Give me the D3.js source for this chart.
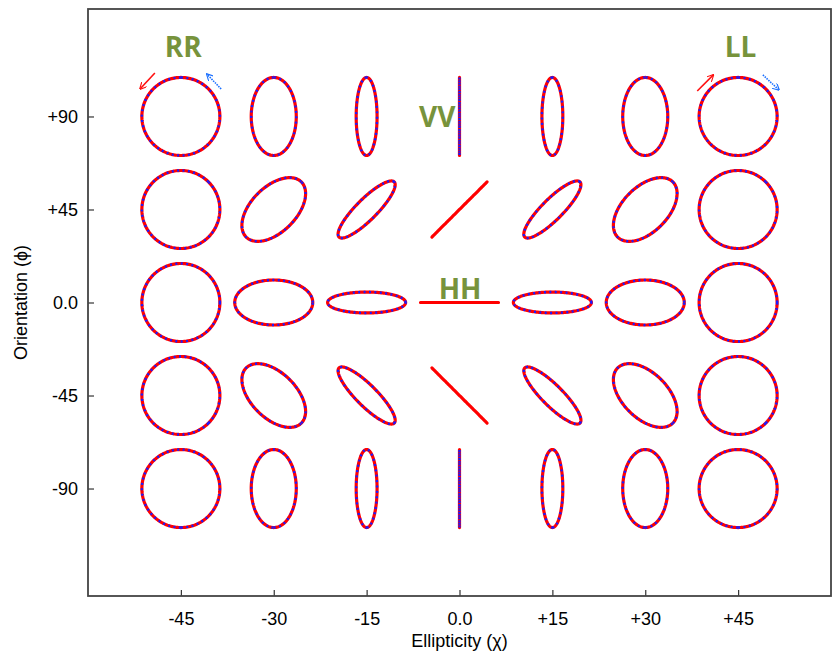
<!DOCTYPE html>
<html>
<head>
<meta charset="utf-8">
<script src="https://cdn.jsdelivr.net/npm/d3@7"></script>
<style>
  body { margin: 0; background: #fff; }
  text { font-family: "Liberation Sans", Arial, sans-serif; }
</style>
</head>
<body>
<script>
const w = 837;
const h = 663;

// data
const ellipticity = [-45, -30, -15, 0, 15, 30, 45];
const orientation = [90, 45, 0, -45, -90];
const xTickLabels = ["-45", "-30", "-15", "0.0", "+15", "+30", "+45"];
const yTickLabels = ["+90", "+45", "0.0", "-45", "-90"];

// polarisation names, anchored in data units (chi, psi)
const polNames = ["RR", "LL", "VV", "HH"];
const polChi = [-44.6, 45.4, -3.6, 0.1];
const polPsi = [119, 119, 85, 1.8];

// rotation sense arrows (data units)
const arrowColor = ["red", "blue", "red", "blue"];
const arrowFrom = [[-49.2, 111], [-38.5, 103.3], [38.4, 102.3], [49.0, 110.1]];
const arrowTo = [[-51.6, 103.3], [-40.8, 110.5], [41.0, 110.1], [51.6, 102.8]];

const margin = { left: 88, right: 6, top: 9, bottom: 67 };

const svg = d3.select("body").append("svg")
  .attr("width", w)
  .attr("height", h);

const xScale = d3.scaleLinear()
  .domain([-60, 60])
  .range([margin.left, w - margin.right]);

const yScale = d3.scaleLinear()
  .domain([-142, 142])
  .range([h - margin.bottom, margin.top]);

// ellipse size: major semi-axis as a share of one column step
const step = xScale(15) - xScale(0);
const major = step * 0.42;

const defs = svg.append("defs");
[["red", "#ff1010"], ["blue", "#1a6fff"]].forEach(([id, c]) => {
  defs.append("marker")
    .attr("id", "arrow-" + id)
    .attr("viewBox", "0 0 10 10")
    .attr("refX", 9)
    .attr("refY", 5)
    .attr("markerWidth", 7)
    .attr("markerHeight", 7)
    .attr("markerUnits", "userSpaceOnUse")
    .attr("orient", "auto")
    .append("path")
    .attr("d", "M0,0 L10,5 L0,10")
    .attr("fill", "none")
    .attr("stroke", c)
    .attr("stroke-width", 1.6);
});

// ellipses
const cells = [];
orientation.forEach((psi) => {
  ellipticity.forEach((chi) => {
    cells.push({ chi, psi });
  });
});

const line = d3.line().curve(d3.curveLinearClosed);

const ellipsePoints = (d) => {
  const cx = xScale(d.chi);
  const cy = yScale(d.psi);
  const a = major;
  const b = major * Math.tan(Math.abs(d.chi) * Math.PI / 180);
  const p = d.psi * Math.PI / 180;
  const pts = [];
  for (let i = 0; i < 180; i++) {
    const t = (i / 180) * 2 * Math.PI;
    const ex = a * Math.cos(t);
    const ey = b * Math.sin(t);
    pts.push([
      cx + ex * Math.cos(p) - ey * Math.sin(p),
      cy - (ex * Math.sin(p) + ey * Math.cos(p))
    ]);
  }
  return pts;
};

svg.append("g")
  .selectAll("path")
  .data(cells)
  .enter()
  .append("path")
  .attr("d", (d) => line(ellipsePoints(d)))
  .attr("fill", "none")
  .attr("stroke", "#ff0000")
  .attr("stroke-width", 3.2)
  .attr("stroke-linejoin", "round");

svg.append("g")
  .selectAll("path")
  .data(cells.filter((d) => d.chi !== 0 || Math.abs(d.psi) === 90))
  .enter()
  .append("path")
  .attr("d", (d) => line(ellipsePoints(d)))
  .attr("fill", "none")
  .attr("stroke", "#1a1aff")
  .attr("stroke-width", 2.4)
  .attr("stroke-dasharray", "2,3.4");

// arrows
svg.append("g")
  .selectAll("line")
  .data(arrowFrom)
  .enter()
  .append("line")
  .attr("x1", (d) => xScale(d[0]))
  .attr("y1", (d) => yScale(d[1]))
  .attr("x2", (d, i) => xScale(arrowTo[i][0]))
  .attr("y2", (d, i) => yScale(arrowTo[i][1]))
  .attr("stroke", (d, i) => arrowColor[i] === "red" ? "#ff1010" : "#1a6fff")
  .attr("stroke-width", 1.6)
  .attr("stroke-dasharray", (d, i) => arrowColor[i] === "red" ? null : "1.5,1")
  .attr("marker-end", (d, i) => "url(#arrow-" + arrowColor[i] + ")");

// polarisation names
svg.append("g")
  .selectAll("text")
  .data(polNames)
  .enter()
  .append("text")
  .attr("x", (d, i) => xScale(polChi[i]))
  .attr("y", (d, i) => yScale(polPsi[i]))
  .attr("text-anchor", "middle")
  .style("font-family", "'Open Sans', sans-serif")
  .style("font-weight", "bold")
  .style("font-size", "28px")
  .style("fill", "#77933c")
  .text((d) => d);

// axes
const xAxis = d3.axisBottom(xScale)
  .tickValues(ellipticity)
  .tickFormat((d, i) => xTickLabels[i])
  .tickSizeInner(-6)
  .tickSizeOuter(0)
  .tickPadding(16);

const yAxis = d3.axisLeft(yScale)
  .tickValues(orientation)
  .tickFormat((d, i) => yTickLabels[i])
  .tickSizeInner(-6)
  .tickSizeOuter(0)
  .tickPadding(10);

const gx = svg.append("g")
  .attr("transform", "translate(0," + (h - margin.bottom) + ")")
  .call(xAxis);

const gy = svg.append("g")
  .attr("transform", "translate(" + margin.left + ",0)")
  .call(yAxis);

[gx, gy].forEach((g) => {
  g.select(".domain").remove();
  g.selectAll(".tick line").attr("stroke", "#333").attr("stroke-width", 1.2);
  g.selectAll(".tick text")
    .style("font-size", "18px")
    .style("fill", "#000");
});

// frame
svg.append("rect")
  .attr("x", margin.left)
  .attr("y", margin.top)
  .attr("width", w - margin.left - margin.right)
  .attr("height", h - margin.top - margin.bottom)
  .attr("fill", "none")
  .attr("stroke", "#444")
  .attr("stroke-width", 1.8);

// axis titles
svg.append("text")
  .attr("x", xScale(0))
  .attr("y", h - 16)
  .attr("text-anchor", "middle")
  .style("font-size", "18px")
  .text("Ellipticity (\u03c7)");

svg.append("text")
  .attr("transform", "translate(27," + yScale(0) + ") rotate(-90)")
  .attr("text-anchor", "middle")
  .style("font-size", "18px")
  .text("Orientation (\u03d5)");
</script>
</body>
</html>
